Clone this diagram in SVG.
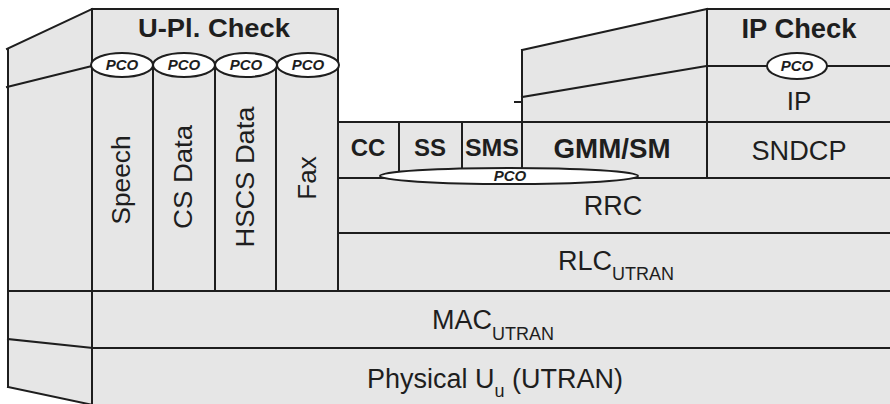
<svg xmlns="http://www.w3.org/2000/svg" width="890" height="404" viewBox="0 0 890 404">
<style>
.fill{fill:#e6e6e6;stroke:none}
.ln{stroke:#1e1e1e;stroke-width:2;fill:none;stroke-linecap:square}
.pco{fill:#ffffff;stroke:#1e1e1e;stroke-width:2}
.t{font-family:"Liberation Sans",Arial,sans-serif;fill:#1e1e1e;text-anchor:middle}
.b{font-weight:bold}
.pt{font-family:"Liberation Sans",Arial,sans-serif;font-weight:bold;font-style:italic;font-size:15px;fill:#1e1e1e;text-anchor:middle}
</style>
<rect width="890" height="404" fill="#ffffff"/>
<g id="fills">
<polygon class="fill" points="7,49 92,9 92,404 8,387"/>
<rect class="fill" x="92" y="9" width="246" height="282"/>
<rect class="fill" x="338" y="122" width="552" height="169"/>
<polygon class="fill" points="522,50 707,9 890,9 890,122 522,122"/>
<rect class="fill" x="92" y="291" width="798" height="113"/>
</g>
<g id="connectors">
<line class="ln" x1="7" y1="49" x2="92" y2="9"/>
<line class="ln" x1="7" y1="87" x2="92" y2="66"/>
<line class="ln" x1="8" y1="49" x2="8" y2="387"/>
<line class="ln" x1="8" y1="387" x2="93" y2="405"/>
<line class="ln" x1="8" y1="339" x2="92" y2="348"/>
<line class="ln" x1="92" y1="9" x2="92" y2="404"/>
<line class="ln" x1="92" y1="9" x2="338" y2="9"/>
<line class="ln" x1="92" y1="65" x2="338" y2="65"/>
<line class="ln" x1="153" y1="65" x2="153" y2="291"/>
<line class="ln" x1="215" y1="65" x2="215" y2="291"/>
<line class="ln" x1="276" y1="65" x2="276" y2="291"/>
<line class="ln" x1="338" y1="9" x2="338" y2="291"/>
<line class="ln" x1="338" y1="122" x2="890" y2="122"/>
<line class="ln" x1="399" y1="122" x2="399" y2="172"/>
<line class="ln" x1="462" y1="122" x2="462" y2="172"/>
<line class="ln" x1="522" y1="50" x2="522" y2="172"/>
<line class="ln" x1="515" y1="102" x2="522" y2="102"/>
<line class="ln" x1="522" y1="50" x2="707" y2="9"/>
<line class="ln" x1="522" y1="97" x2="707" y2="66"/>
<line class="ln" x1="707" y1="9" x2="890" y2="9"/>
<line class="ln" x1="707" y1="66" x2="890" y2="66"/>
<line class="ln" x1="707" y1="9" x2="707" y2="178"/>
<line class="ln" x1="338" y1="178" x2="890" y2="178"/>
<line class="ln" x1="338" y1="233" x2="890" y2="233"/>
<line class="ln" x1="8" y1="291" x2="890" y2="291"/>
<line class="ln" x1="92" y1="348" x2="890" y2="348"/>
</g>
<g id="upl-check">
<text class="t b" x="214" y="37" font-size="26" textLength="152" lengthAdjust="spacingAndGlyphs">U-Pl. Check</text>
</g>
<g id="pco-speech"><ellipse class="pco" cx="122" cy="65" rx="31" ry="12"/><text class="pt" x="122" y="70">PCO</text></g>
<g id="pco-cs"><ellipse class="pco" cx="184" cy="65" rx="31" ry="12"/><text class="pt" x="184" y="70">PCO</text></g>
<g id="pco-hscs"><ellipse class="pco" cx="246" cy="65" rx="31" ry="12"/><text class="pt" x="246" y="70">PCO</text></g>
<g id="pco-fax"><ellipse class="pco" cx="308" cy="65" rx="31" ry="12"/><text class="pt" x="308" y="70">PCO</text></g>
<g id="speech"><text class="t" font-size="26" transform="translate(130,180) rotate(-90)" textLength="89" lengthAdjust="spacingAndGlyphs">Speech</text></g>
<g id="cs-data"><text class="t" font-size="26" transform="translate(192,177) rotate(-90)" textLength="104" lengthAdjust="spacingAndGlyphs">CS Data</text></g>
<g id="hscs-data"><text class="t" font-size="26" transform="translate(254,177) rotate(-90)" textLength="141" lengthAdjust="spacingAndGlyphs">HSCS Data</text></g>
<g id="fax"><text class="t" font-size="26" transform="translate(316,178) rotate(-90)">Fax</text></g>
<g id="cc"><text class="t b" x="368" y="156" font-size="24">CC</text></g>
<g id="ss"><text class="t b" x="430" y="156" font-size="24">SS</text></g>
<g id="sms"><text class="t b" x="492" y="156" font-size="24" textLength="54" lengthAdjust="spacingAndGlyphs">SMS</text></g>
<g id="gmm-sm"><text class="t b" x="612" y="158" font-size="27" textLength="117" lengthAdjust="spacingAndGlyphs">GMM/SM</text></g>
<g id="ip-check"><text class="t b" x="799" y="38" font-size="27" textLength="115" lengthAdjust="spacingAndGlyphs">IP Check</text></g>
<g id="pco-ip"><ellipse class="pco" cx="797" cy="66" rx="30" ry="13"/><text class="pt" x="797" y="71">PCO</text></g>
<g id="ip"><text class="t" x="799" y="110" font-size="26">IP</text></g>
<g id="sndcp"><text class="t" x="799" y="160" font-size="27" textLength="95" lengthAdjust="spacingAndGlyphs">SNDCP</text></g>
<g id="pco-control"><ellipse class="pco" cx="509" cy="176" rx="129" ry="8"/><text class="pt" x="510" y="181">PCO</text></g>
<g id="rrc"><text class="t" x="613" y="215" font-size="27">RRC</text></g>
<g id="rlc"><text class="t" x="616" y="270" font-size="27">RLC<tspan font-size="18" dy="10">UTRAN</tspan></text></g>
<g id="mac"><text class="t" x="493" y="329" font-size="27">MAC<tspan font-size="18" dy="11">UTRAN</tspan></text></g>
<g id="physical"><text class="t" x="495" y="388" font-size="27">Physical U<tspan font-size="18" dy="9">u</tspan><tspan dy="-9"> (UTRAN)</tspan></text></g>
</svg>
